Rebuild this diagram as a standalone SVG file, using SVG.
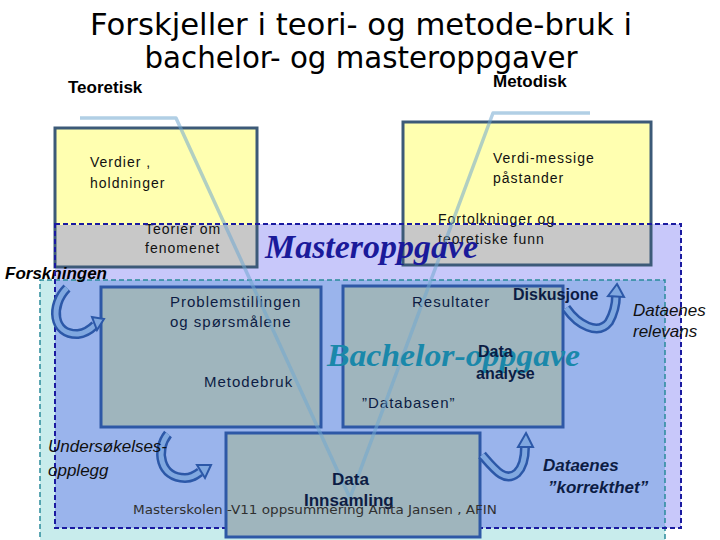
<svg xmlns="http://www.w3.org/2000/svg" width="720" height="540" viewBox="0 0 720 540">
<style>
.t{font-family:"Liberation Sans",Arial,sans-serif;fill:#101010;}
.b{font-family:"Liberation Sans",Arial,sans-serif;font-weight:bold;}
.body{font-family:"Liberation Sans",Arial,sans-serif;font-size:14px;letter-spacing:1px;fill:#111;}
.inner{font-family:"Liberation Sans",Arial,sans-serif;font-size:15px;letter-spacing:1px;fill:#0c1c44;}
.ybox{fill:#ffffb0;stroke:none;}
.gbox{fill:#c8c8c8;stroke:none;}
.yb{fill:none;stroke:#3c5a78;stroke-width:3;}
.ib{fill:#9fb5bd;stroke:#2e58a6;stroke-width:3;}
.vline{fill:none;stroke:#71a8d0;stroke-width:3.5;stroke-opacity:0.55;stroke-linejoin:round;}
.ao{fill:none;stroke:#2c58a8;stroke-width:10;}
.ai{fill:none;stroke:#80a8e0;stroke-width:5;}
.ah{fill:#80a8e0;stroke:#2c58a8;stroke-width:2;stroke-linejoin:miter;}
</style>
<rect width="720" height="540" fill="#ffffff"/>
<g id="title">
<text x="361" y="35" text-anchor="middle" font-family="DejaVu Sans,sans-serif" font-size="31" textLength="542" lengthAdjust="spacingAndGlyphs" fill="#000">Forskjeller i teori- og metode-bruk i</text>
<text x="361" y="68" text-anchor="middle" font-family="DejaVu Sans,sans-serif" font-size="31" textLength="433" lengthAdjust="spacingAndGlyphs" fill="#000">bachelor- og masteroppgaver</text>
</g>
<g id="masteroppgave-area">
<rect x="55" y="224" width="626" height="304" fill="#c8c8fa"/>
</g>
<g id="teoretisk">
<text x="68" y="93" class="b" font-size="17" fill="#000">Teoretisk</text>
<rect x="55" y="128" width="202" height="97" class="ybox"/>
<rect x="55" y="225" width="202" height="42" class="gbox"/>
<rect x="55" y="128" width="202" height="139" class="yb"/>
<text x="90" y="167" class="body">Verdier ,</text>
<text x="90" y="188" class="body">holdninger</text>
<text x="145" y="234" class="body">Teorier om</text>
<text x="145" y="253" class="body">fenomenet</text>
</g>
<g id="metodisk">
<text x="493" y="87" class="b" font-size="17" fill="#000">Metodisk</text>
<rect x="403" y="122" width="248" height="103" class="ybox"/>
<rect x="403" y="225" width="248" height="40" class="gbox"/>
<rect x="403" y="122" width="248" height="143" class="yb"/>
<text x="493" y="163" class="body">Verdi-messige</text>
<text x="493" y="183" class="body">påstander</text>
<text x="438" y="224" class="body">Fortolkninger og</text>
<text x="438" y="244" class="body">teoretiske funn</text>
</g>
<g id="forskningen-area">
<rect x="40" y="280" width="625" height="265" fill="#c8ecec"/>
<rect x="55" y="280" width="610" height="248" fill="#9ab4ec"/>
<path d="M40 545 V280 H665 V545" fill="none" stroke="#2a8a9a" stroke-width="1.5" stroke-dasharray="5,3"/>
<text x="5" y="279" class="b" font-style="italic" font-size="17" fill="#000">Forskningen</text>
</g>
<g id="masteroppgave-border">
<rect x="55" y="224" width="626" height="304" fill="none" stroke="#1a1aa0" stroke-width="2" stroke-dasharray="5,3"/>
</g>
<g id="problem">
<rect x="101" y="287" width="220" height="140" class="ib"/>
<text x="170" y="307" class="inner">Problemstillingen</text>
<text x="170" y="327" class="inner">og spørsmålene</text>
<text x="204" y="387" class="inner">Metodebruk</text>
</g>
<g id="resultater">
<rect x="343" y="286" width="220" height="141" class="ib"/>
<text x="412" y="307" class="inner">Resultater</text>
<text x="362" y="408" class="inner">”Databasen”</text>
</g>
<g id="innsamling">
<rect x="226" y="433" width="254" height="104" class="ib"/>
</g>
<g id="connectors">
<path class="vline" d="M80 118 H176 L350 498 L493 113 H590"/>
<path class="ao" d="M67 288 C50 305,52 335,78 334 C86 333,91 329,95 325"/>
<path class="ai" d="M67 288 C50 305,52 335,78 334 C86 333,91 329,95 325"/>
<polygon class="ah" points="104,319 97,330 92,317"/>
<path class="ao" d="M566 308 C578 325,598 336,609 322 C614 313,616 304,616 296"/>
<path class="ai" d="M566 308 C578 325,598 336,609 322 C614 313,616 304,616 296"/>
<polygon class="ah" points="617,284 624,297 608,296"/>
<path class="ao" d="M168 434 C155 450,160 478,185 478 C192 478,196 475,200 472"/>
<path class="ai" d="M168 434 C155 450,160 478,185 478 C192 478,196 475,200 472"/>
<polygon class="ah" points="211,465 205,478 197,465"/>
<path class="ao" d="M482 455 C495 470,505 483,517 473 C523 467,525 457,525 447"/>
<path class="ai" d="M482 455 C495 470,505 483,517 473 C523 467,525 457,525 447"/>
<polygon class="ah" points="526,433 533,447 518,447"/>
</g>
<g id="labels">
<text x="265" y="258" font-family="Liberation Serif,serif" font-style="italic" font-weight="bold" font-size="34" fill="#1a1a9a" textLength="213" lengthAdjust="spacingAndGlyphs">Masteroppgave</text>
<text x="327" y="366" font-family="Liberation Serif,serif" font-style="italic" font-weight="bold" font-size="32" fill="#1a88aa" textLength="253" lengthAdjust="spacingAndGlyphs">Bachelor-oppgave</text>
<text x="513" y="300" class="b" font-size="16" fill="#0c1c44">Diskusjone</text>
<text x="478" y="357" class="b" font-size="16" fill="#0c1c44">Data</text>
<text x="476" y="379" class="b" font-size="16" fill="#0c1c44">analyse</text>
<text x="633" y="316" class="t" font-style="italic" font-size="17" fill="#0c1c44">Dataenes</text>
<text x="633" y="337" class="t" font-style="italic" font-size="17" fill="#0c1c44">relevans</text>
<text x="48" y="452" class="t" font-style="italic" font-size="17" fill="#0c2030">Undersøkelses-</text>
<text x="48" y="476" class="t" font-style="italic" font-size="17" fill="#0c2030">opplegg</text>
<text x="543" y="471" class="b" font-style="italic" font-size="17" fill="#0c1c44">Dataenes</text>
<text x="548" y="493" class="b" font-style="italic" font-size="17" fill="#0c1c44">”korrekthet”</text>
<text x="332" y="485" class="b" font-size="17" fill="#0c1c44">Data</text>
<text x="304" y="506" class="b" font-size="17" fill="#0c1c44">Innsamling</text>
<text x="133" y="514" font-family="DejaVu Sans Condensed,DejaVu Sans,sans-serif" font-size="13" fill="#303030" textLength="364" lengthAdjust="spacingAndGlyphs">Masterskolen -V11 oppsummering  Anita Jansen , AFIN</text>
</g>
</svg>
